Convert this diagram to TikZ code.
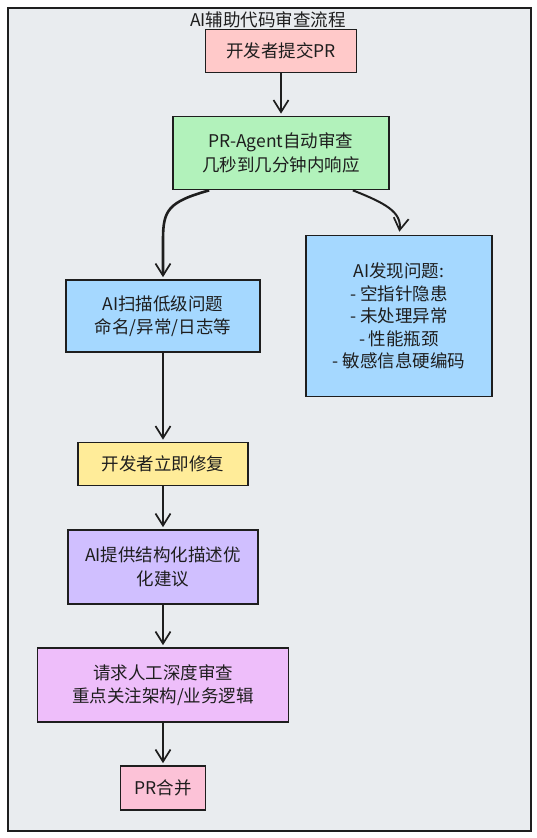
\documentclass[tikz,border=0pt]{standalone}
\usepackage{fontspec}
\setmainfont{Noto Sans CJK SC}
\usetikzlibrary{arrows.meta}
\definecolor{bgc}{HTML}{E9ECEF}
\definecolor{ink}{HTML}{1E1E1E}
\definecolor{cpink}{HTML}{FFC9C9}
\definecolor{cgreen}{HTML}{B2F2BB}
\definecolor{cblue}{HTML}{A5D8FF}
\definecolor{cyellow}{HTML}{FFEC99}
\definecolor{cpurple}{HTML}{D0BFFF}
\definecolor{cviolet}{HTML}{EEBEFA}
\definecolor{crose}{HTML}{FCC2D7}
\tikzset{
  box/.style={draw=ink, line width=1.7pt, text=ink, align=center, inner sep=0pt,
    font=\fontsize{17.5}{23.5}\selectfont},
  arr/.style={draw=ink, line width=2pt, -{Straight Barb[length=12pt,width=15pt,line width=1.7pt]}},
}
\begin{document}
\begin{tikzpicture}[x=1pt,y=-1pt]
\useasboundingbox (0,0) rectangle (537,838);
\fill[white] (0,0) rectangle (537,838);
\draw[ink, line width=1.7pt, fill=bgc] (8,8) rectangle (531,831);
\node[text=ink, font=\fontsize{17.5}{20}\selectfont] (title) at (268,20) {AI辅助代码审查流程};
\node[box, fill=cpink, minimum width=151pt, minimum height=43pt] (n1) at (281,51) {开发者提交PR};
\node[box, fill=cgreen, minimum width=216pt, minimum height=73pt] (n2) at (281,153) {PR-Agent自动审查\\几秒到几分钟内响应};
\node[box, fill=cblue, minimum width=186pt, minimum height=161pt, font=\fontsize{17.5}{22.5}\selectfont] (n3) at (399,316) {AI发现问题:\\- 空指针隐患\\- 未处理异常\\- 性能瓶颈\\- 敏感信息硬编码};
\node[box, fill=cblue, minimum width=194pt, minimum height=72pt] (n4) at (163,316) {AI扫描低级问题\\命名/异常/日志等};
\node[box, fill=cyellow, minimum width=170pt, minimum height=43pt] (n5) at (163,464) {开发者立即修复};
\node[box, fill=cpurple, minimum width=190pt, minimum height=74pt] (n6) at (163,567) {AI提供结构化描述优\\化建议};
\node[box, fill=cviolet, minimum width=251pt, minimum height=74pt] (n7) at (163,685) {请求人工深度审查\\重点关注架构/业务逻辑};
\node[box, fill=crose, minimum width=85pt, minimum height=44pt] (n8) at (163,788) {PR合并};
\draw[arr, shorten >=2pt] (n1) -- (n2);
\draw[arr, line width=2.6pt, shorten >=2pt] ([xshift=37pt]n2.south west) .. controls (168,202) and (163,210) .. (163,240) -- (n4.north);
\draw[arr, shorten >=3pt] ([xshift=-37pt]n2.south east) .. controls (385,203) and (402,212) .. (n3.north);
\draw[arr, line width=2.4pt, shorten >=2pt] (n4) -- (n5);
\draw[arr, shorten >=2pt] (n5) -- (n6);
\draw[arr, shorten >=2pt] (n6) -- (n7);
\draw[arr, shorten >=2pt] (n7) -- (n8);
\end{tikzpicture}
\end{document}
